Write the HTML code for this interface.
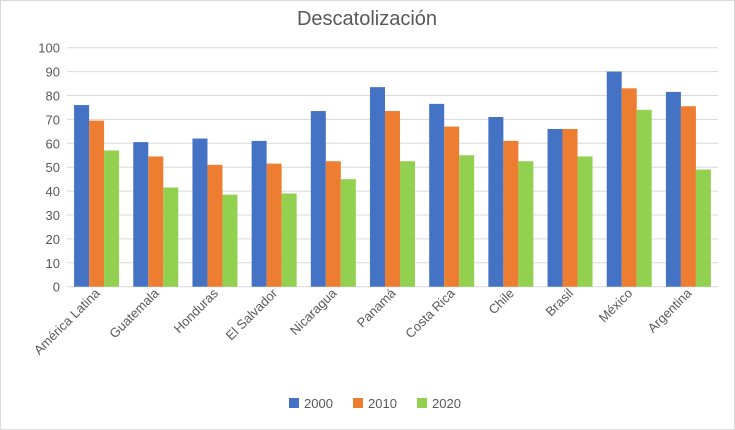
<!DOCTYPE html>
<html><head><meta charset="utf-8"><style>
body{margin:0;background:#fff}
svg{display:block;font-family:"Liberation Sans",sans-serif}
</style></head><body>
<svg width="735" height="430">
<rect x="0.5" y="0.5" width="734" height="429" fill="#fff" stroke="#d9d9d9"/>
<text x="367" y="25" text-anchor="middle" font-size="20" fill="#595959">Descatolización</text>
<g id="grid"></g><g id="bars"></g><g id="xl"></g><g id="yl"></g>
<g font-size="13" fill="#595959">
<rect x="289" y="398" width="10" height="10" fill="#4472c4"/><text x="304" y="408">2000</text>
<rect x="353" y="398" width="10" height="10" fill="#ed7d31"/><text x="368" y="408">2010</text>
<rect x="417" y="398" width="10" height="10" fill="#92d050"/><text x="432" y="408">2020</text>
</g>
</svg>
<script>
const categories=["América Latina","Guatemala","Honduras","El Salvador","Nicaragua","Panamá","Costa Rica","Chile","Brasil","México","Argentina"];
const s2000=[76,60.5,62,61,73.5,83.5,76.5,71,66,90,81.5];
const s2010=[69.5,54.5,51,51.5,52.5,73.5,67,61,66,83,75.5];
const s2020=[57,41.5,38.5,39,45,52.5,55,52.5,54.5,74,49];
const yTicks=[0,10,20,30,40,50,60,70,80,90,100];
const NS="http://www.w3.org/2000/svg";
const L=67,R=718,Y0=286.7,Y100=47.7;
const y=v=>Y0-(Y0-Y100)*v/100;
const band=(R-L)/categories.length;
const x=i=>L+band*i;
function mk(t,a,p){const e=document.createElementNS(NS,t);for(const k in a)e.setAttribute(k,a[k]);p.appendChild(e);return e;}
const G=document.getElementById('grid'),B=document.getElementById('bars'),XL=document.getElementById('xl'),YL=document.getElementById('yl');
yTicks.forEach(t=>{
 const l=mk('line',{x1:L,x2:R,y1:y(t),y2:y(t),stroke:'#d9d9d9','stroke-width':1},G);
 
 
 const tx=mk('text',{x:60,y:y(t)+5,'text-anchor':'end','font-size':13,fill:'#595959'},YL);
 tx.textContent=t;
 
 
});
const series=[[s2000,'#4472c4','2000'],[s2010,'#ed7d31','2010'],[s2020,'#92d050','2020']];
const bw=15,gap=(band-3*bw)/2;
categories.forEach((c,i)=>{
 series.forEach((s,j)=>{
  const v=s[0][i];
  const r=mk('rect',{x:x(i)+gap+j*bw,y:y(v),width:bw,height:Y0-y(v),fill:s[1]},B);
  
  
 });
 const cx=x(i)+band/2+4,cy=294;
 const t=mk('text',{x:cx,y:cy,'text-anchor':'end','font-size':13,fill:'#595959',transform:`rotate(-45 ${cx} ${cy})`},XL);
 t.textContent=c;
 
 
});
</script>
</body></html>
